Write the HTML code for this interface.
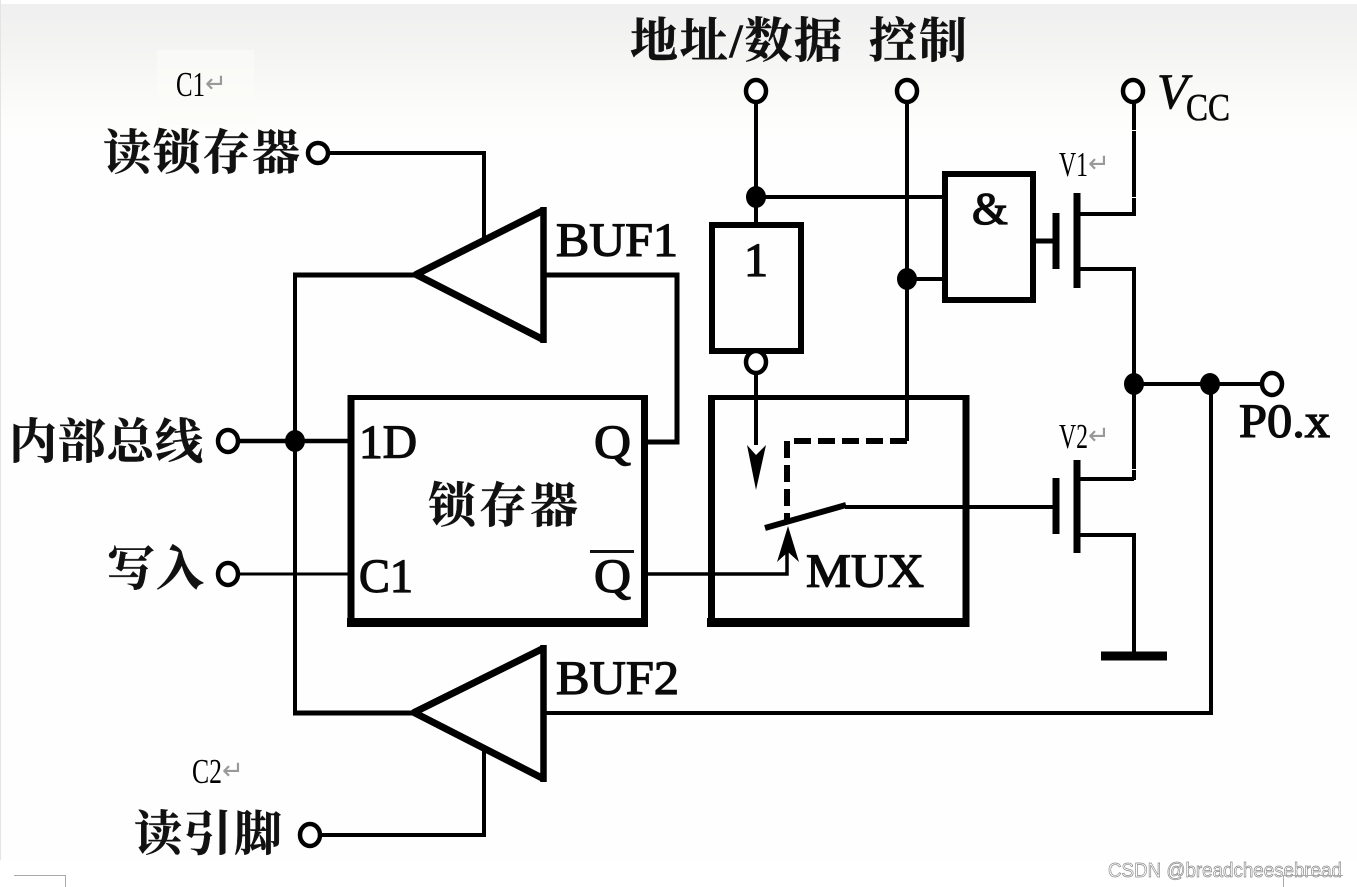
<!DOCTYPE html>
<html>
<head>
<meta charset="utf-8">
<style>
html,body{margin:0;padding:0;background:#fff;}
svg{display:block;}
.cn{font-family:"Liberation Serif","Noto Serif CJK SC",serif;font-weight:700;font-size:48px;fill:#111;}
.en{font-family:"Liberation Serif",serif;font-weight:400;font-size:48px;fill:#0a0a0a;stroke:#0a0a0a;stroke-width:1.3px;}
.note{font-family:"Liberation Serif","Noto Serif CJK SC",serif;font-size:35px;fill:#000;}
.ret{font-family:"DejaVu Sans",sans-serif;font-size:26px;fill:#999;}
.wm{font-family:"Liberation Sans",sans-serif;font-size:20px;fill:#fff;stroke:#888;stroke-width:.7px;}
</style>
</head>
<body>
<svg width="1357" height="887" viewBox="0 0 1357 887" xmlns="http://www.w3.org/2000/svg">
<defs>
<linearGradient id="bg" x1="0" y1="0" x2="0" y2="1">
<stop offset="0" stop-color="#efefef"/>
<stop offset="0.45" stop-color="#f6f6f5"/>
<stop offset="0.85" stop-color="#fdfdfb"/>
<stop offset="1" stop-color="#fefefe"/>
</linearGradient>
</defs>
<rect x="0" y="0" width="1357" height="887" fill="#fff"/>
<rect x="1" y="4" width="1356" height="856" fill="#fefefe"/>
<rect x="1" y="4" width="1356" height="136" fill="url(#bg)"/>
<rect x="0" y="0" width="1" height="860" fill="#e4e4e4"/>
<rect x="157" y="50" width="97" height="75" fill="#fbfbf9" opacity=".6"/>

<g fill="none" stroke="#000" stroke-linecap="butt">
<!-- read latch -->
<path d="M328 153H484V240" stroke-width="4"/>
<!-- BUF1 -->
<path d="M543.500 207V343" stroke-width="6.500"/>
<path d="M544 210L416 274.500L544 340" stroke-width="7" stroke-linejoin="round"/>
<path d="M293 275H417" stroke-width="5"/>
<path d="M295 273V713" stroke-width="4"/>
<path d="M544 275H677V442H644" stroke-width="5"/>
<!-- internal bus -->
<path d="M239 441H350" stroke-width="4.500"/>
<!-- latch box -->
<path d="M351 395V627" stroke-width="7"/>
<path d="M644.500 395V627" stroke-width="7"/>
<path d="M348 397.500H648" stroke-width="5"/>
<path d="M347 622.500H648" stroke-width="9"/>
<!-- write -->
<path d="M239 574H350" stroke-width="3"/>
<!-- BUF2 -->
<path d="M543.500 645V782" stroke-width="6.500"/>
<path d="M544 648L414 712.500L544 779" stroke-width="7" stroke-linejoin="round"/>
<path d="M293 713H417" stroke-width="5"/>
<path d="M544 713H1211V384" stroke-width="4"/>
<!-- read pin -->
<path d="M320 835H484V750" stroke-width="4"/>
<!-- addr -->
<path d="M756 101V224" stroke-width="4"/>
<path d="M756 197H945" stroke-width="4"/>
<rect x="712" y="225" width="89" height="126" stroke-width="6"/>
<path d="M756 372V445" stroke-width="4"/>
<!-- control -->
<path d="M907 101V441" stroke-width="4"/>
<path d="M907 279H945" stroke-width="4"/>
<!-- dashed -->
<path d="M907 441H787V522" stroke-width="6" stroke-dasharray="17 7"/>
<!-- AND -->
<rect x="945" y="174" width="88" height="126" stroke-width="6"/>
<!-- V1 -->
<path d="M1033 241H1056" stroke-width="5"/>
<path d="M1056 213V269" stroke-width="7"/>
<path d="M1077 193V288" stroke-width="7"/>
<path d="M1077 214H1134" stroke-width="4"/>
<path d="M1077 269H1134V480" stroke-width="4"/>
<path d="M1134 101V216" stroke-width="4"/>
<!-- output -->
<path d="M1134 384H1262" stroke-width="4"/>
<!-- MUX box -->
<path d="M711.500 395V627" stroke-width="7"/>
<path d="M966 395V627" stroke-width="7"/>
<path d="M708 397.500H969" stroke-width="5"/>
<path d="M707 622.500H969" stroke-width="9"/>
<!-- V2 -->
<path d="M1056 478V534" stroke-width="7"/>
<path d="M1077 460V553" stroke-width="7"/>
<path d="M1077 479H1134" stroke-width="4"/>
<path d="M1077 535H1134V656" stroke-width="4"/>
<path d="M1101 656H1167" stroke-width="9"/>
<!-- switch -->
<path d="M765 528L846 505" stroke-width="6"/>
<path d="M845 507H1056" stroke-width="4"/>
<!-- Qbar to mux -->
<path d="M645 574H787V540" stroke-width="3.500"/>
<!-- terminals -->
<g fill="#fff" stroke-width="4.500">
<ellipse cx="318" cy="153" rx="10" ry="10"/>
<ellipse cx="228" cy="441" rx="10" ry="11"/>
<ellipse cx="228" cy="574" rx="10" ry="11"/>
<ellipse cx="310" cy="835" rx="10" ry="11"/>
<ellipse cx="756" cy="91" rx="10" ry="11"/>
<ellipse cx="907" cy="91" rx="10" ry="11"/>
<ellipse cx="1133" cy="91" rx="10" ry="11"/>
<ellipse cx="756" cy="362" rx="10" ry="11"/>
<ellipse cx="1272" cy="384" rx="10" ry="11"/>
</g>
</g>
<!-- junction dots -->
<g fill="#000">
<ellipse cx="295" cy="441" rx="10" ry="11"/>
<ellipse cx="756" cy="197" rx="10" ry="11"/>
<ellipse cx="907" cy="279" rx="10" ry="11"/>
<ellipse cx="1134" cy="384" rx="10" ry="11"/>
<ellipse cx="1210" cy="384" rx="10" ry="11"/>
<!-- arrowheads -->
<path d="M747 445L756 490L766 445L756 455Z"/>
<path d="M777 562L788 526L799 562L788 552Z"/>
</g>
<!-- white breaks -->
<g fill="#fff">
<rect x="1132" y="130" width="4" height="1"/>
<rect x="1132" y="197" width="4" height="1"/>
<rect x="1132" y="469" width="4" height="1"/>
</g>

<!-- labels -->
<text class="cn" x="103" y="169" stroke="#111" stroke-width=".4" textLength="197">读锁存器</text>
<text class="cn" x="9" y="458" stroke="#111" stroke-width=".4" textLength="194">内部总线</text>
<text class="cn" x="107" y="585" stroke="#111" stroke-width=".4" textLength="97">写入</text>
<text class="cn" x="134" y="850" stroke="#111" stroke-width=".4" textLength="148">读引脚</text>
<text class="cn" x="630" y="57" stroke="#111" stroke-width=".4" textLength="212">地址/数据</text>
<text class="cn" x="869" y="57" stroke="#111" stroke-width=".4" textLength="98">控制</text>
<text class="cn" x="428" y="522" stroke="#111" stroke-width=".4" textLength="150">锁存器</text>

<text class="en" x="556" y="256" textLength="122" lengthAdjust="spacingAndGlyphs">BUF1</text>
<text class="en" x="556" y="694" textLength="123" lengthAdjust="spacingAndGlyphs">BUF2</text>
<text class="en" x="359" y="458" textLength="58" lengthAdjust="spacingAndGlyphs">1D</text>
<text class="en" x="594" y="458" textLength="37" lengthAdjust="spacingAndGlyphs">Q</text>
<text class="en" x="359" y="592" textLength="54" lengthAdjust="spacingAndGlyphs">C1</text>
<text class="en" x="594" y="592" textLength="37" lengthAdjust="spacingAndGlyphs">Q</text>
<rect x="590" y="550" width="44" height="3" fill="#111"/>
<text class="en" x="806" y="587" textLength="118" lengthAdjust="spacingAndGlyphs">MUX</text>
<text class="en" x="744" y="276" style="font-size:48px">1</text>
<text class="en" x="972" y="224" style="font-size:46px">&amp;</text>
<text class="en" x="1157" y="108" style="font-style:italic;font-size:50px;stroke-width:.8px">V</text>
<text class="en" x="1186" y="120" style="font-size:38px;stroke-width:.6px" textLength="44" lengthAdjust="spacingAndGlyphs">CC</text>
<text class="en" x="1239" y="437" textLength="91" lengthAdjust="spacingAndGlyphs">P0.x</text>

<text class="note" x="176" y="96" textLength="29" lengthAdjust="spacingAndGlyphs">C1</text>
<text class="ret" x="205" y="92">↵</text>
<text class="note" x="192" y="783" textLength="30" lengthAdjust="spacingAndGlyphs">C2</text>
<text class="ret" x="222" y="779">↵</text>
<text class="note" x="1059" y="176" textLength="29" lengthAdjust="spacingAndGlyphs">V1</text>
<text class="ret" x="1088" y="172">↵</text>
<text class="note" x="1059" y="448" textLength="29" lengthAdjust="spacingAndGlyphs">V2</text>
<text class="ret" x="1088" y="444">↵</text>

<text class="wm" x="1108" y="877" textLength="234" lengthAdjust="spacingAndGlyphs">CSDN @breadcheesebread</text>
<path d="M14 875.500H65.500V887" fill="none" stroke="#aaa" stroke-width="1"/>
<path d="M1343 875.500H1283.500V887" fill="none" stroke="#aaa" stroke-width="1"/>
</svg>
</body>
</html>
